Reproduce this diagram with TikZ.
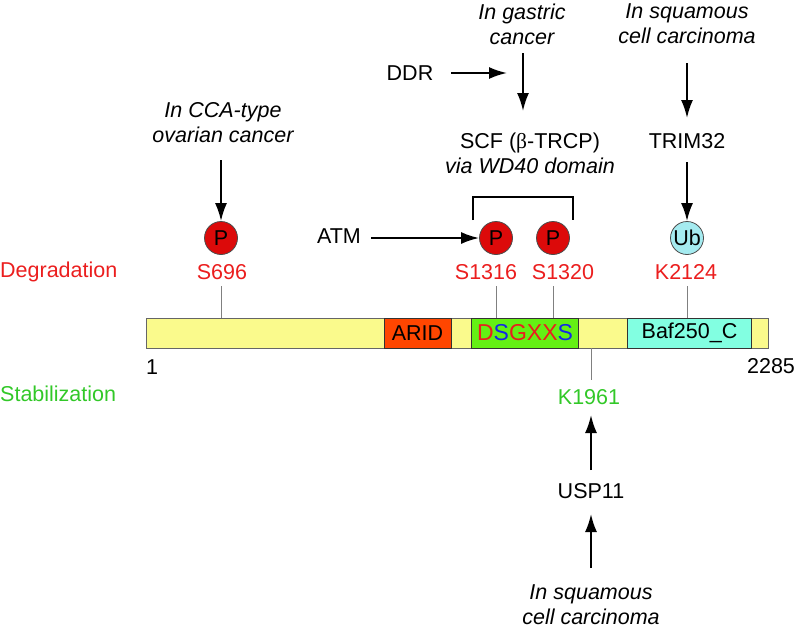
\documentclass[tikz,border=0pt]{standalone}
\usepackage{fontspec}
\setmainfont{Liberation Sans}
\newfontfamily\betafont{Liberation Serif}
\usetikzlibrary{arrows.meta}
\definecolor{labred}{RGB}{235,30,30}
\definecolor{labgreen}{RGB}{50,200,40}
\definecolor{barYel}{RGB}{250,250,140}
\definecolor{aridOr}{RGB}{255,70,0}
\definecolor{motifGr}{RGB}{100,240,20}
\definecolor{bafCy}{RGB}{130,255,225}
\definecolor{pRed}{RGB}{220,10,10}
\definecolor{ubCy}{RGB}{165,235,240}
\definecolor{sBlue}{RGB}{20,40,230}
\begin{document}
\begin{tikzpicture}[x=1pt,y=-1pt,
  every node/.style={font=\fontsize{21.5}{25}\selectfont, inner sep=0pt, align=center},
  itx/.style={font=\fontsize{21.5}{25}\selectfont\itshape},
  red lab/.style={text=labred},
  green lab/.style={text=labgreen},
  pcirc/.style={circle, draw=black!70, line width=0.8pt, fill=pRed, minimum size=33pt},
  ubcirc/.style={circle, draw=black!70, line width=0.8pt, fill=ubCy, minimum size=33pt},
  arr/.style={line width=2pt, -{Latex[length=18pt,width=12pt]}},
  tick/.style={draw=black!50, line width=0.8pt},
  dom/.style={draw=black!80, line width=1pt}
]
\useasboundingbox (0,0) rectangle (797,630);

% bar and domains
\draw[draw=black!60, line width=0.8pt, fill=barYel] (146,318) rectangle (768,348);
\node[dom, fill=aridOr, minimum width=67pt, minimum height=30pt] (arid) at (417.5,333) {ARID};
\node[dom, fill=motifGr, minimum width=107pt, minimum height=30pt, font=\fontsize{23}{25}\selectfont] (motif) at (525,333)
  {\textcolor{labred}{D}\textcolor{sBlue}{S}\textcolor{labred}{GXX}\textcolor{sBlue}{S}};
\node[dom, fill=bafCy, minimum width=124pt, minimum height=30pt] (baf) at (689.5,333) {Baf250\_C};
\coordinate (bar696) at (221,318);
\coordinate (bar1316) at (496,318);
\coordinate (bar1320) at (553,318);
\coordinate (bar2124) at (687,318);
\coordinate (bar1961) at (591,348);

\node (one) at (152,367) {1};
\node (end) at (771,366) {2285};

% side labels
\node[red lab, anchor=west] (degr) at (0,272) {Degradation};
\node[green lab, anchor=west] (stab) at (0,394) {Stabilization};

% site labels
\node[red lab] (s696) at (222,272) {S696};
\node[red lab] (s1316) at (486,272) {S1316};
\node[red lab] (s1320) at (563,272) {S1320};
\node[red lab] (k2124) at (686,272) {K2124};
\node[green lab] (k1961) at (589,397) {K1961};

% ticks
\draw[tick] (221,286) -- (bar696);
\draw[tick] (496,286) -- (bar1316);
\draw[tick] (553,286) -- (bar1320);
\draw[tick] (687,286) -- (bar2124);
\draw[tick] (bar1961) -- (591,380);

% circles
\node[pcirc] (p696) at (221,238) {P};
\node[pcirc] (p1316) at (496,238) {P};
\node[pcirc] (p1320) at (553,238) {P};
\node[ubcirc] (ub) at (687,238) {Ub};

% bracket
\draw[line width=2pt] (473,220) -- (473,197) -- (573,197) -- (573,220);

% upper texts
\node[itx] (cca) at (223,123) {In CCA-type\\ovarian cancer};
\node[itx] (gast) at (522,24) {In gastric\\cancer};
\node[itx] (sq1) at (687,24) {In squamous\\cell carcinoma};
\node (ddr) at (410,73) {DDR};
\node (scf) at (530,153) {SCF ({\betafont β}-TRCP)\\\itshape via WD40 domain};
\node (trim) at (687,141) {TRIM32};
\node (atm) at (339,236) {ATM};

% lower texts
\node (usp) at (591,491) {USP11};
\node[itx] (sq2) at (591,605) {In squamous\\cell carcinoma};

% arrows
\draw[arr] (221,160) -- (p696.north);
\draw[arr] (523,53) -- (523,111);
\coordinate (ddrEnd) at (507,73);
\draw[arr] (451,73) -- (ddrEnd);
\draw[arr] (687,63) -- (687,118);
\draw[arr] (687,162) -- (ub.north);
\draw[arr] (atm.east) ++(10,2) -- (p1316.west);
\draw[arr] (591,470) -- (591,415);
\draw[arr] (591,568) -- (591,514);
\end{tikzpicture}
\end{document}
